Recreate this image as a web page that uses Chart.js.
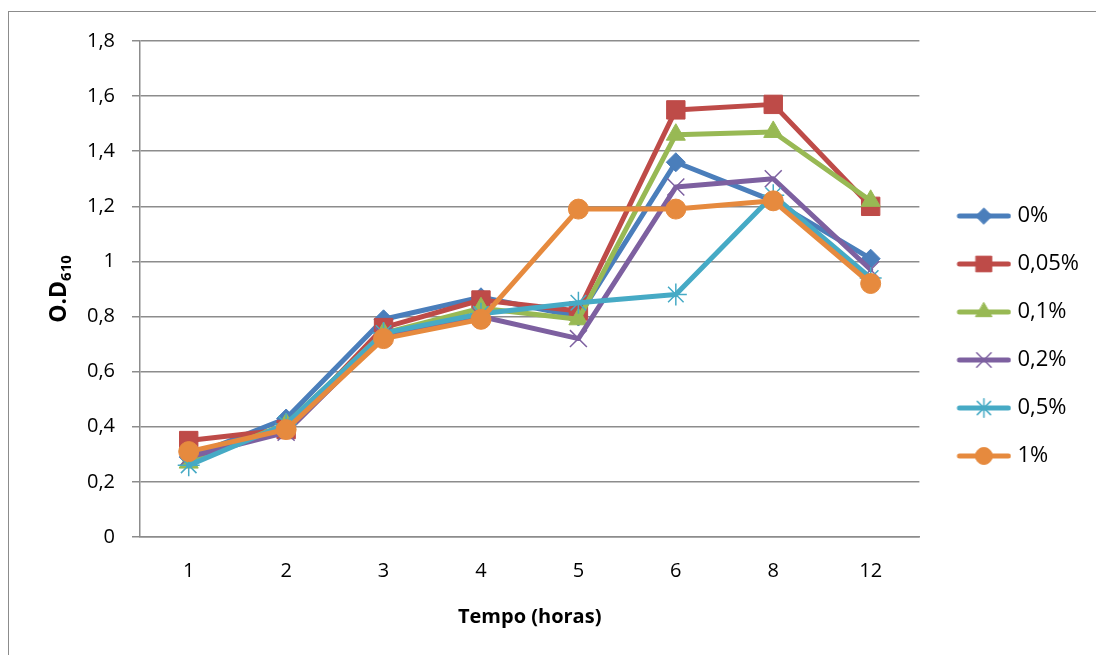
<!DOCTYPE html>
<html>
<head>
<meta charset="utf-8">
<title>O.D610 x Tempo</title>
<script src="https://cdn.jsdelivr.net/npm/chart.js@4/dist/chart.umd.min.js"></script>
<style>
  html, body { margin: 0; padding: 0; background: #fff; overflow: hidden; }
  #wrap { position: absolute; left: 0; top: 0; width: 1096px; height: 655px; }
</style>
</head>
<body>
<div id="wrap"><canvas id="c" width="1096" height="655"></canvas></div>
<script>
// Horas de cultivo
const categories = ['1', '2', '3', '4', '5', '6', '8', '12'];

// Densidade óptica (610 nm) por concentração
const serie0 = [0.29, 0.43, 0.79, 0.87, 0.80, 1.36, 1.22, 1.01];
const serie005 = [0.35, 0.39, 0.76, 0.86, 0.82, 1.55, 1.57, 1.20];
const serie01 = [0.27, 0.41, 0.74, 0.83, 0.79, 1.46, 1.47, 1.22];
const serie02 = [0.29, 0.38, 0.73, 0.80, 0.72, 1.27, 1.30, 0.97];
const serie05 = [0.26, 0.41, 0.74, 0.81, 0.85, 0.88, 1.24, 0.94];
const serie1 = [0.31, 0.39, 0.72, 0.79, 1.19, 1.19, 1.22, 0.92];

const seriesNames = ['0%', '0,05%', '0,1%', '0,2%', '0,5%', '1%'];
const yTickLabels = ['0', '0,2', '0,4', '0,6', '0,8', '1', '1,2', '1,4', '1,6', '1,8'];

const FONT = '"Open Sans", Lato, "Liberation Sans", sans-serif';
const GRID = '#8c8c8c';

const styles = [
  { color: '#4A7EBB', point: 'rectRot', radius: 9.5, pbw: 1 },
  { color: '#BE4B48', point: 'rect', radius: 13, pbw: 1 },
  { color: '#98B954', point: 'triangle', radius: 11, pbw: 1 },
  { color: '#7D60A0', point: 'crossRot', radius: 12, pbw: 1.5 },
  { color: '#46AAC5', point: 'star', radius: 11, pbw: 1.5 },
  { color: '#E68A3E', point: 'circle', radius: 10, pbw: 1 }
];
const values = [serie0, serie005, serie01, serie02, serie05, serie1];

// Legend symbol slot width and the picture drawn in it:
// a short line with the series marker, sitting in the right part of the slot
const SYMBOL_SLOT = 61;
function legendSymbol(st) {
  const cv = document.createElement('canvas');
  cv.width = SYMBOL_SLOT + 10; cv.height = 28;
  const g = cv.getContext('2d');
  const x0 = SYMBOL_SLOT - 44 + 2, x1 = SYMBOL_SLOT + 10 - 3, cy = 14;
  g.strokeStyle = st.color;
  g.lineWidth = 5;
  g.lineCap = 'round';
  g.beginPath(); g.moveTo(x0, cy); g.lineTo(x1, cy); g.stroke();
  g.fillStyle = st.color;
  g.lineWidth = st.pbw;
  Chart.helpers.drawPoint(g, { pointStyle: st.point, radius: st.radius * 0.85, rotation: 0, borderWidth: st.pbw }, (x0 + x1) / 2, cy);
  return cv;
}

const datasets = seriesNames.map((name, i) => ({
  label: name,
  data: values[i],
  borderColor: styles[i].color,
  backgroundColor: styles[i].color,
  pointBackgroundColor: styles[i].color,
  pointBorderColor: styles[i].color,
  pointStyle: styles[i].point,
  pointRadius: styles[i].radius,
  pointHoverRadius: styles[i].radius,
  pointBorderWidth: styles[i].pbw,
  borderWidth: 5,
  borderJoinStyle: 'round',
  borderCapStyle: 'round',
  tension: 0,
  order: seriesNames.length - i
}));

// Frame around the chart and the rotated y title with subscript
const decorations = {
  id: 'decorations',
  beforeDraw(chart) {
    const ctx = chart.ctx;
    ctx.save();
    ctx.strokeStyle = '#8c8c8c';
    ctx.lineWidth = 1;
    ctx.strokeRect(8.5, 11.5, 1200, 1000);
    ctx.restore();
  },
  afterDraw(chart) {
    const ctx = chart.ctx;
    ctx.save();
    ctx.translate(66, 289);
    ctx.rotate(-Math.PI / 2);
    ctx.fillStyle = '#000';
    ctx.textBaseline = 'alphabetic';
    const main = 'O.D', sub = '610';
    ctx.font = 'bold 23px ' + FONT;
    const w1 = ctx.measureText(main).width;
    ctx.font = 'bold 15px ' + FONT;
    const w2 = ctx.measureText(sub).width;
    const start = -(w1 + w2) / 2;
    ctx.font = 'bold 23px ' + FONT;
    ctx.fillText(main, start, 0);
    ctx.font = 'bold 15px ' + FONT;
    ctx.fillText(sub, start + w1, 5);
    ctx.restore();
  }
};

new Chart(document.getElementById('c'), {
  type: 'line',
  data: { labels: categories, datasets },
  plugins: [decorations],
  options: {
    responsive: false,
    animation: false,
    events: [],
    layout: { padding: { left: 0, top: 41, right: 7, bottom: 24 } },
    plugins: {
      tooltip: { enabled: false },
      legend: {
        position: 'right',
        align: 'center',
        labels: {
          usePointStyle: true,
          pointStyleWidth: SYMBOL_SLOT,
          padding: 26,
          color: '#000',
          font: { family: FONT, size: 22 },
          generateLabels(chart) {
            return chart.data.datasets.map((ds, i) => ({
              text: ds.label,
              pointStyle: legendSymbol(styles[i]),
              fillStyle: styles[i].color,
              strokeStyle: styles[i].color,
              lineWidth: 0,
              hidden: false,
              datasetIndex: i,
              fontColor: '#000'
            }));
          }
        }
      }
    },
    scales: {
      x: {
        offset: true,
        grid: { display: false, drawTicks: false },
        border: { display: true, color: GRID, width: 1.5 },
        ticks: { color: '#000', padding: 22, font: { family: FONT, size: 20 } },
        title: {
          display: true,
          text: 'Tempo (horas)',
          color: '#000',
          font: { family: FONT, size: 20, weight: 'bold' },
          padding: { top: 0, bottom: 2 }
        },
        afterFit(scale) { scale.height = 94; }
      },
      y: {
        min: 0,
        max: 1.8,
        grid: { color: GRID, lineWidth: 1.5, tickLength: 8, drawTicks: true },
        border: { display: true, color: GRID, width: 1.5 },
        ticks: {
          stepSize: 0.2,
          padding: 17,
          color: '#000',
          font: { family: FONT, size: 20 },
          callback: (v, idx) => yTickLabels[idx]
        },
        afterFit(scale) { scale.width = 140; }
      }
    }
  }
});
</script>
</body>
</html>
